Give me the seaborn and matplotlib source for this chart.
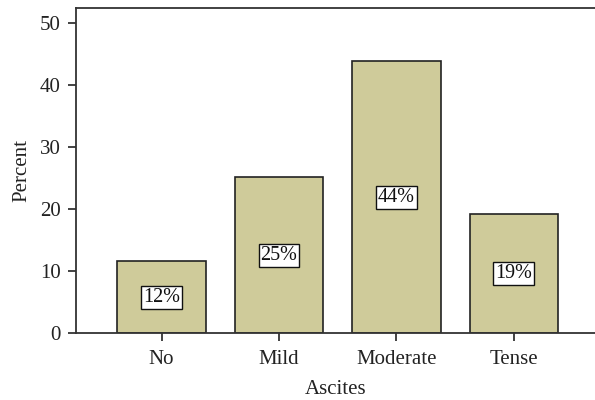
import matplotlib
matplotlib.use("Agg")
import matplotlib.pyplot as plt
import seaborn as sns
import pandas as pd

categories = ["No", "Mild", "Moderate", "Tense"]
percent = [11.6, 25.1, 43.8, 19.2]
labels = ["12%", "25%", "44%", "19%"]

sns.set_style("white")
plt.rcParams['font.family'] = ['Liberation Serif', 'DejaVu Serif']

df = pd.DataFrame({"Ascites": categories, "Percent": percent})

fig = plt.figure(figsize=(5.95, 4.0), dpi=100)
ax = fig.add_axes([76/595, 1-333/400, 1-76/595, (333-8)/400])

sns.barplot(data=df, x="Ascites", y="Percent", order=categories, color="#CFCB9A",
            saturation=1, width=0.75, edgecolor="#222222", linewidth=1.2, ax=ax)

for i, (v, lab) in enumerate(zip(percent, labels)):
    ax.text(i, v / 2, lab, ha="center", va="center", fontsize=14.5, color="#111111",
            bbox=dict(boxstyle="square,pad=0.1", facecolor="white", edgecolor="#111111", linewidth=1.0))

ax.set_xlim(-0.728, 3.69)
ax.set_ylim(0, 52.4)
ax.set_yticks([0, 10, 20, 30, 40, 50])
ax.set_xlabel("Ascites", fontsize=15, color="#222222", labelpad=8)
ax.set_ylabel("Percent", fontsize=15, color="#222222", labelpad=6)
ax.tick_params(axis="both", direction="out", length=6, width=1.2, color="#222222",
               labelsize=15, labelcolor="#222222", left=True, bottom=True)
ax.tick_params(axis="x", pad=6)
ax.tick_params(axis="y", pad=5)

for s in ["left", "bottom", "top"]:
    ax.spines[s].set_visible(True)
    ax.spines[s].set_color("#333333")
    ax.spines[s].set_linewidth(1.3)
ax.spines["right"].set_visible(False)

fig.savefig("out.png", dpi=100)
